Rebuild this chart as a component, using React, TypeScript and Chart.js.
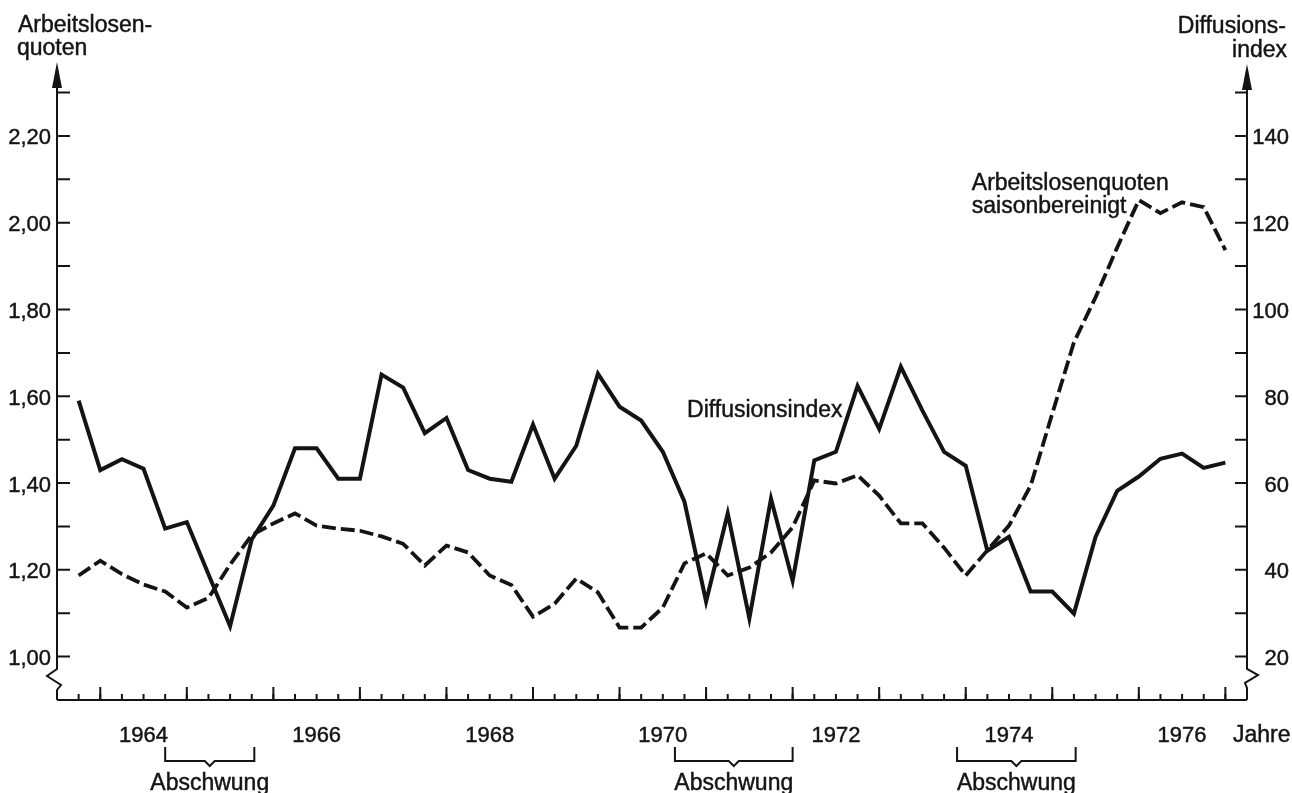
import React, { useEffect, useRef } from "react";
import { Chart, registerables } from "chart.js";

Chart.register(...registerables);

// Quarterly observations (padding entries "" at both ends of the axis)
const quarterLabels = [
  "",
  "1963 III", "1963 IV",
  "1964 I", "1964 II", "1964 III", "1964 IV",
  "1965 I", "1965 II", "1965 III", "1965 IV",
  "1966 I", "1966 II", "1966 III", "1966 IV",
  "1967 I", "1967 II", "1967 III", "1967 IV",
  "1968 I", "1968 II", "1968 III", "1968 IV",
  "1969 I", "1969 II", "1969 III", "1969 IV",
  "1970 I", "1970 II", "1970 III", "1970 IV",
  "1971 I", "1971 II", "1971 III", "1971 IV",
  "1972 I", "1972 II", "1972 III", "1972 IV",
  "1973 I", "1973 II", "1973 III", "1973 IV",
  "1974 I", "1974 II", "1974 III", "1974 IV",
  "1975 I", "1975 II", "1975 III", "1975 IV",
  "1976 I", "1976 II", "1976 III", "1976 IV",
  "",
];

// Arbeitslosenquoten saisonbereinigt (left axis, dashed)
const arbeitslosenquoten = [
  1.187, 1.221, 1.19, 1.166, 1.15, 1.113, 1.135, 1.212, 1.28, 1.307,
  1.33, 1.302, 1.295, 1.29, 1.277, 1.26, 1.21, 1.256, 1.24, 1.187,
  1.165, 1.092, 1.122, 1.18, 1.148, 1.067, 1.067, 1.113, 1.215, 1.238,
  1.187, 1.205, 1.24, 1.298, 1.406, 1.399, 1.418, 1.371, 1.307, 1.307,
  1.251, 1.187, 1.245, 1.302, 1.394, 1.56, 1.724, 1.828, 1.943, 2.052,
  2.022, 2.047, 2.036, 1.937,
];

// Diffusionsindex (right axis, solid)
const diffusionsindex = [
  79, 63, 65.5, 63.3, 49.5, 51, 39, 27, 47, 54.8,
  68, 68, 61, 61, 85, 82, 71.5, 75, 63, 61,
  60.3, 73.5, 61, 68.6, 85.2, 77.6, 74.4, 67.2, 55.7, 32.7,
  53, 28.8, 56.4, 37.5, 65.2, 67.2, 82.4, 72.5, 86.8, 76.7,
  67.2, 64, 44.4, 47.6, 35, 35, 29.9, 47.6, 58.2, 61.5,
  65.6, 66.8, 63.5, 64.7,
];

// Axis ticks and labels
const leftTickValues = [1.0, 1.1, 1.2, 1.3, 1.4, 1.5, 1.6, 1.7, 1.8, 1.9, 2.0, 2.1, 2.2, 2.3];
const leftLabelValues = [1.0, 1.2, 1.4, 1.6, 1.8, 2.0, 2.2];
const leftLabels = ["1,00", "1,20", "1,40", "1,60", "1,80", "2,00", "2,20"];
const rightTickValues = [20, 30, 40, 50, 60, 70, 80, 90, 100, 110, 120, 130, 140, 150];
const rightLabelValues = [20, 40, 60, 80, 100, 120, 140];
const rightLabels = ["20", "40", "60", "80", "100", "120", "140"];
const yearTicks = [1964, 1965, 1966, 1967, 1968, 1969, 1970, 1971, 1972, 1973, 1974, 1975, 1976, 1977];
const yearLabelYears = [1964, 1966, 1968, 1970, 1972, 1974, 1976];
const yearLabels = ["1964", "1966", "1968", "1970", "1972", "1974", "1976"];

// Abschwung phases (in years)
const abschwungStart = [1964.75, 1970.64, 1973.9];
const abschwungEnd = [1965.78, 1972.0, 1975.27];

const AXIS_START_YEAR = 1963.5;
const INK = "#141414";
const WORD_FONT = '23px "Liberation Sans", Arial, sans-serif';
const NUM_FONT = '22px "Liberation Sans", Arial, sans-serif';

function txt(ctx: CanvasRenderingContext2D, s: string, x: number, y: number) {
  ctx.fillText(s, x, y);
  ctx.strokeText(s, x, y);
}

const axesPlugin = {
  id: "customAxes",
  afterDatasetsDraw(chart: any) {
    const ctx: CanvasRenderingContext2D = chart.ctx;
    const xs = chart.scales.x;
    const yl = chart.scales.yL;
    const yr = chart.scales.yR;
    const { left, right, top, bottom } = chart.chartArea;
    const xAt = (year: number) => xs.getPixelForValue((year - AXIS_START_YEAR) * 4);

    ctx.save();
    ctx.strokeStyle = INK;
    ctx.fillStyle = INK;
    ctx.lineWidth = 2;
    ctx.lineCap = "butt";
    ctx.lineJoin = "miter";

    // Left axis with arrow and break
    ctx.beginPath();
    ctx.moveTo(left, top + 24);
    ctx.lineTo(left, bottom - 31);
    ctx.lineTo(left - 10, bottom - 24);
    ctx.lineTo(left + 4, bottom - 15);
    ctx.lineTo(left, bottom - 10);
    ctx.lineTo(left, bottom);
    ctx.stroke();
    ctx.beginPath();
    ctx.moveTo(left, top + 2);
    ctx.lineTo(left - 5, top + 28);
    ctx.lineTo(left + 5, top + 28);
    ctx.closePath();
    ctx.fill();

    // Right axis with arrow and break
    ctx.beginPath();
    ctx.moveTo(right, top + 26);
    ctx.lineTo(right, bottom - 31);
    ctx.lineTo(right + 11, bottom - 25);
    ctx.lineTo(right - 2, bottom - 17);
    ctx.lineTo(right, bottom - 12);
    ctx.lineTo(right, bottom);
    ctx.stroke();
    ctx.beginPath();
    ctx.moveTo(right, top + 4);
    ctx.lineTo(right - 5, top + 30);
    ctx.lineTo(right + 5, top + 30);
    ctx.closePath();
    ctx.fill();

    // Bottom axis
    ctx.beginPath();
    ctx.moveTo(left, bottom);
    ctx.lineTo(right, bottom);
    ctx.stroke();

    // Quarter ticks
    ctx.beginPath();
    for (let i = 1; i < quarterLabels.length - 1; i++) {
      const x = xs.getPixelForValue(i);
      ctx.moveTo(x, bottom);
      ctx.lineTo(x, bottom - 6);
    }
    ctx.stroke();
    // Year ticks
    ctx.beginPath();
    yearTicks.forEach((y) => {
      const x = xAt(y);
      ctx.moveTo(x, bottom);
      ctx.lineTo(x, bottom - 13);
    });
    ctx.stroke();

    // Left ticks
    ctx.beginPath();
    leftTickValues.forEach((v) => {
      const y = yl.getPixelForValue(v);
      ctx.moveTo(left, y);
      ctx.lineTo(left + 13, y);
    });
    ctx.stroke();
    // Right ticks
    ctx.beginPath();
    rightTickValues.forEach((v) => {
      const y = yr.getPixelForValue(v);
      ctx.moveTo(right, y);
      ctx.lineTo(right - 12, y);
    });
    ctx.stroke();

    // Text (slightly emboldened to match the printed original)
    ctx.lineWidth = 0.45;
    ctx.font = NUM_FONT;
    ctx.textBaseline = "alphabetic";
    ctx.textAlign = "right";
    leftLabelValues.forEach((v, i) => {
      txt(ctx, leftLabels[i], left - 6, yl.getPixelForValue(v) + 8.5);
    });
    rightLabelValues.forEach((v, i) => {
      txt(ctx, rightLabels[i], right + 42, yr.getPixelForValue(v) + 8.5);
    });
    ctx.textAlign = "center";
    yearLabelYears.forEach((y, i) => {
      txt(ctx, yearLabels[i], xAt(y + 0.5), bottom + 42);
    });

    ctx.font = WORD_FONT;
    ctx.textAlign = "left";
    txt(ctx, "Jahre", right - 14, bottom + 42);

    // Axis titles
    ctx.textAlign = "left";
    txt(ctx, "Arbeitslosen-", 18, 32);
    txt(ctx, "quoten", 17, 55);
    ctx.textAlign = "right";
    txt(ctx, "Diffusions-", 1286, 33);
    txt(ctx, "index", 1287, 57);

    // In-plot labels (anchored in data coordinates)
    ctx.textAlign = "left";
    txt(ctx, "Diffusionsindex", xAt(1970.78), yl.getPixelForValue(1.552));
    txt(ctx, "Arbeitslosenquoten", xAt(1974.07), yl.getPixelForValue(2.0755));
    txt(ctx, "saisonbereinigt", xAt(1974.07), yl.getPixelForValue(2.0225));

    // Abschwung brackets
    abschwungStart.forEach((s, i) => {
      const x1 = xAt(s);
      const x2 = xAt(abschwungEnd[i]);
      const xc = (x1 + x2) / 2;
      const yTop = bottom + 47;
      const yLine = bottom + 61;
      ctx.lineWidth = 2;
      ctx.beginPath();
      ctx.moveTo(x1, yTop);
      ctx.lineTo(x1, yLine);
      ctx.lineTo(xc - 5, yLine);
      ctx.lineTo(xc, yLine + 5);
      ctx.lineTo(xc + 5, yLine);
      ctx.lineTo(x2, yLine);
      ctx.lineTo(x2, yTop);
      ctx.stroke();
      ctx.lineWidth = 0.45;
      ctx.textAlign = "center";
      txt(ctx, "Abschwung", xc, bottom + 90);
    });

    ctx.restore();
  },
};

export default function App() {
  const ref = useRef<HTMLCanvasElement>(null);

  useEffect(() => {
    document.body.style.margin = "0";
    const chart = new Chart(ref.current as HTMLCanvasElement, {
      type: "line",
      data: {
        labels: quarterLabels,
        datasets: [
          {
            label: "Arbeitslosenquoten saisonbereinigt",
            data: [null, ...arbeitslosenquoten, null],
            yAxisID: "yL",
            borderColor: INK,
            borderWidth: 3.8,
            borderDash: [14, 5],
            borderJoinStyle: "miter",
            borderCapStyle: "butt",
            pointRadius: 0,
            tension: 0,
            fill: false,
          },
          {
            label: "Diffusionsindex",
            data: [null, ...diffusionsindex, null],
            yAxisID: "yR",
            borderColor: INK,
            borderWidth: 4,
            borderJoinStyle: "miter",
            borderCapStyle: "butt",
            pointRadius: 0,
            tension: 0,
            fill: false,
          },
        ],
      } as any,
      options: {
        responsive: false,
        animation: false,
        devicePixelRatio: 1,
        events: [],
        layout: { padding: { left: 57, right: 45, top: 60, bottom: 93 } },
        plugins: {
          legend: { display: false },
          tooltip: { enabled: false },
          title: { display: false },
        },
        scales: {
          x: { type: "category", display: false, offset: false },
          yL: { type: "linear", position: "left", display: false, min: 0.9, max: 2.375, bounds: "data" },
          yR: { type: "linear", position: "right", display: false, min: 10, max: 157.5, bounds: "data" },
        },
      } as any,
      plugins: [axesPlugin],
    });
    return () => chart.destroy();
  }, []);

  return (
    <div style={{ position: "absolute", left: 0, top: 0, width: 1292, height: 793, background: "#ffffff" }}>
      <canvas ref={ref} width={1292} height={793} style={{ display: "block" }} />
    </div>
  );
}
